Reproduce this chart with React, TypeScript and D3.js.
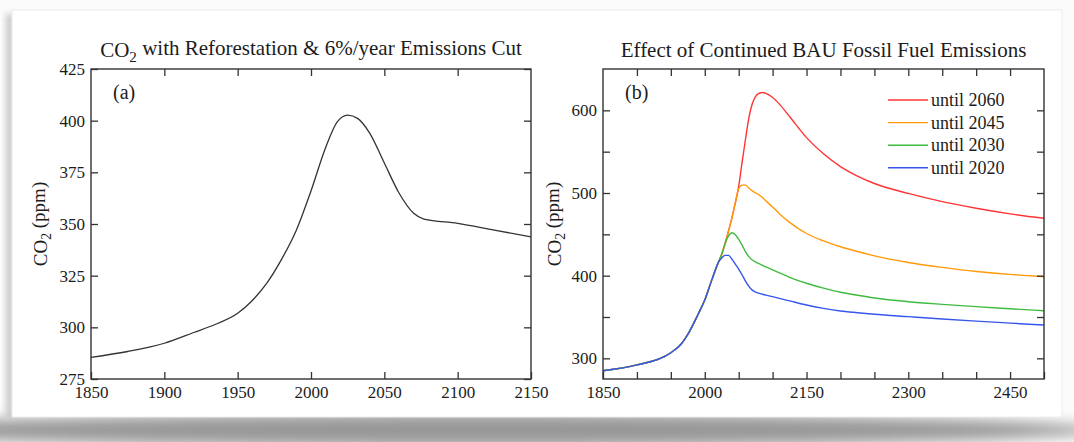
import React, { useRef, useEffect } from 'react';
import * as d3 from 'd3';

// panel (a): reforestation + 6%/yr cut
const yearsA = [1850, 1875, 1900, 1920, 1935, 1950, 1960, 1970, 1980, 1990, 2000, 2010, 2018, 2025, 2032, 2040, 2050, 2060, 2070, 2077, 2100, 2125, 2150];
const co2A = [285.5, 288.3, 292.3, 297.5, 301.5, 306.8, 313, 321.5, 333, 347, 366, 387, 399.5, 402.7, 401, 394, 379.5, 365, 355.2, 352.4, 350.3, 347, 343.8];

// panel (b): BAU emissions continued until ...
const yearsB = [1850, 1900, 1950, 1965, 1975, 1990, 2000, 2010, 2020, 2025, 2030, 2035, 2040, 2045, 2050, 2055, 2060, 2065, 2070, 2075, 2080, 2085, 2090, 2100, 2110, 2125, 2150, 2175, 2200, 2225, 2250, 2300, 2350, 2400, 2450, 2500];
const historyB = [285, 292, 306.8, 317, 329, 353, 370.5, 394, 416];
const after2020 = [421.5, 424.5, 424.5, 420, 414, 408, 401, 393.5, 387, 382.5, 380, 378.6, 377.5, 376.5, 374.6, 372.5, 369.5, 364.5, 360.5, 357.3, 355.2, 353.3, 350.4, 347.6, 345, 342.6, 340.3];
const after2030 = [426, 439, 448, 452, 449.5, 444, 437, 429, 423, 419, 416.5, 414.5, 412.5, 410.5, 407, 403.5, 398, 390.8, 385, 380, 376.3, 373, 368.5, 365.3, 362.5, 360, 357.6];
const after2045 = [426, 439, 454, 470, 488, 505, 509.5, 509.5, 506, 502.5, 500, 497.8, 494.5, 490.5, 483, 475, 464.5, 451, 442, 435, 429.2, 424, 416, 410, 405, 401.5, 398.7];
const after2060 = [426, 439, 454, 470, 488, 508, 537, 565, 591, 608, 617, 620.5, 621.5, 620.5, 615.5, 607.5, 592.5, 567, 547.5, 532, 520.5, 511.5, 499.5, 489.5, 481.5, 474.8, 469.4];

const legendLabels = ['until 2060', 'until 2045', 'until 2030', 'until 2020'];
const seriesColors = ['#ff3434', '#ff9a0a', '#3fbb3f', '#3656ec'];

const xTicksA = [1850, 1900, 1950, 2000, 2050, 2100, 2150];
const yTicksA = [275, 300, 325, 350, 375, 400, 425];
const xTicksB = d3.range(1850, 2501, 50);
const xLabelsB = [1850, 2000, 2150, 2300, 2450];
const yTicksB = [300, 350, 400, 450, 500, 550, 600];
const yLabelsB = [300, 400, 500, 600];

const W = 1074;
const H = 442;
const FONT = '"Liberation Serif", "Times New Roman", serif';
const INK = '#1c1c1c';

function frame(svg, box, x, y, xTicks, xLabels, yTicks, yLabels) {
  const g = svg.append('g');
  const fmt = (list) => (d) => (list.includes(d) ? String(d) : '');

  g.append('g')
    .attr('transform', `translate(0,${box.y + box.h})`)
    .call(d3.axisBottom(x).tickValues(xTicks).tickSize(-7).tickPadding(7).tickFormat(fmt(xLabels)));
  g.append('g')
    .attr('transform', `translate(0,${box.y})`)
    .call(d3.axisTop(x).tickValues(xTicks.slice(1, -1)).tickSize(-7).tickFormat(() => ''));
  g.append('g')
    .attr('transform', `translate(${box.x},0)`)
    .call(d3.axisLeft(y).tickValues(yTicks).tickSize(-7).tickPadding(6).tickFormat(fmt(yLabels)));
  g.append('g')
    .attr('transform', `translate(${box.x + box.w},0)`)
    .call(d3.axisRight(y).tickValues(yTicks).tickSize(-7).tickFormat(() => ''));

  g.selectAll('.domain').remove();
  g.selectAll('.tick line').attr('stroke', '#333').attr('stroke-width', 1.3);
  g.selectAll('.tick text')
    .attr('fill', INK)
    .style('font-family', FONT)
    .style('font-size', '17px');

  g.append('rect')
    .attr('x', box.x)
    .attr('y', box.y)
    .attr('width', box.w)
    .attr('height', box.h)
    .attr('fill', 'none')
    .attr('stroke', '#333')
    .attr('stroke-width', 1.4);
}

function co2Text(sel, rest) {
  sel.append('tspan').text('CO');
  sel.append('tspan').attr('font-size', '0.72em').attr('dy', '0.3em').text('2');
  sel.append('tspan').attr('dy', '-0.3em').text(rest);
}

const App = () => {
  const svgRef = useRef(null);

  useEffect(() => {
    const svg = d3.select(svgRef.current);
    svg.selectAll('*').remove();

    // page background + card shadow
    const defs = svg.append('defs');
    defs.append('filter').attr('id', 'blur').attr('x', '-20%').attr('y', '-200%').attr('width', '140%').attr('height', '500%')
      .append('feGaussianBlur').attr('stdDeviation', 7);
    defs.append('filter').attr('id', 'blurS').attr('x', '-50%').attr('y', '-10%').attr('width', '200%').attr('height', '120%')
      .append('feGaussianBlur').attr('stdDeviation', 3);

    svg.append('rect').attr('width', W).attr('height', H).attr('fill', '#fbfbfb');
    svg.append('ellipse').attr('cx', 480).attr('cy', 430).attr('rx', 620).attr('ry', 16)
      .attr('fill', '#989898').attr('filter', 'url(#blur)');
    svg.append('rect').attr('x', 6).attr('y', 14).attr('width', 8).attr('height', 405)
      .attr('fill', '#c8c8c8').attr('filter', 'url(#blurS)');
    svg.append('rect').attr('x', 12).attr('y', 10).attr('width', 1050).attr('height', 407)
      .attr('fill', '#ffffff').attr('stroke', '#ececec').attr('stroke-width', 1);

    // ---------- panel (a)
    const boxA = { x: 91, y: 69, w: 440, h: 310 };
    const xA = d3.scaleLinear().domain([1850, 2150]).range([boxA.x, boxA.x + boxA.w]);
    const yA = d3.scaleLinear().domain([275, 425]).range([boxA.y + boxA.h, boxA.y]);

    const lineA = d3.line()
      .x((d) => xA(d[0]))
      .y((d) => yA(d[1]))
      .curve(d3.curveMonotoneX);

    svg.append('path')
      .datum(d3.zip(yearsA, co2A))
      .attr('d', lineA)
      .attr('fill', 'none')
      .attr('stroke', '#333')
      .attr('stroke-width', 1.3);

    frame(svg, boxA, xA, yA, xTicksA, xTicksA, yTicksA, yTicksA);

    // ---------- panel (b)
    const boxB = { x: 603, y: 69, w: 441, h: 310 };
    const xB = d3.scaleLinear().domain([1850, 2500]).range([boxB.x, boxB.x + boxB.w]);
    const yB = d3.scaleLinear().domain([275, 650]).range([boxB.y + boxB.h, boxB.y]);

    const lineB = d3.line()
      .x((d) => xB(d[0]))
      .y((d) => yB(d[1]))
      .curve(d3.curveMonotoneX);

    const scenarios = [after2060, after2045, after2030, after2020];
    scenarios.forEach((rest, i) => {
      svg.append('path')
        .datum(d3.zip(yearsB, historyB.concat(rest)))
        .attr('d', lineB)
        .attr('fill', 'none')
        .attr('stroke', seriesColors[i])
        .attr('stroke-width', 1.4);
    });

    frame(svg, boxB, xB, yB, xTicksB, xLabelsB, yTicksB, yLabelsB);

    // legend
    const leg = svg.append('g').attr('transform', 'translate(888,100)');
    legendLabels.forEach((lab, i) => {
      leg.append('line')
        .attr('x1', 0).attr('x2', 40)
        .attr('y1', i * 22.6).attr('y2', i * 22.6)
        .attr('stroke', seriesColors[i]).attr('stroke-width', 1.4);
      leg.append('text')
        .attr('x', 43).attr('y', i * 22.6).attr('dy', '0.33em')
        .attr('fill', INK)
        .style('font-family', FONT).style('font-size', '18px')
        .text(lab);
    });

    // titles, panel tags, axis titles
    const txt = (x, y, size, anchor) => svg.append('text')
      .attr('x', x).attr('y', y)
      .attr('text-anchor', anchor)
      .attr('fill', INK)
      .style('font-family', FONT)
      .style('font-size', size + 'px');

    co2Text(txt(boxA.x + boxA.w / 2, 57, 21, 'middle'), ' with Reforestation & 6%/year Emissions Cut');
    txt(boxB.x + boxB.w / 2, 57, 21, 'middle').text('Effect of Continued BAU Fossil Fuel Emissions');

    txt(113, 99, 20, 'start').text('(a)');
    txt(625, 99, 20, 'start').text('(b)');

    [[47, boxA], [561, boxB]].forEach(([x, box]) => {
      const t = svg.append('text')
        .attr('transform', `translate(${x},${box.y + box.h / 2}) rotate(-90)`)
        .attr('text-anchor', 'middle')
        .attr('fill', INK)
        .style('font-family', FONT)
        .style('font-size', '19px');
      co2Text(t, ' (ppm)');
    });
  }, []);

  return (
    <React.Fragment>
      <svg ref={svgRef} width={W} height={H} style={{ position: 'absolute', left: 0, top: 0, display: 'block' }} />
    </React.Fragment>
  );
};

export default App;
